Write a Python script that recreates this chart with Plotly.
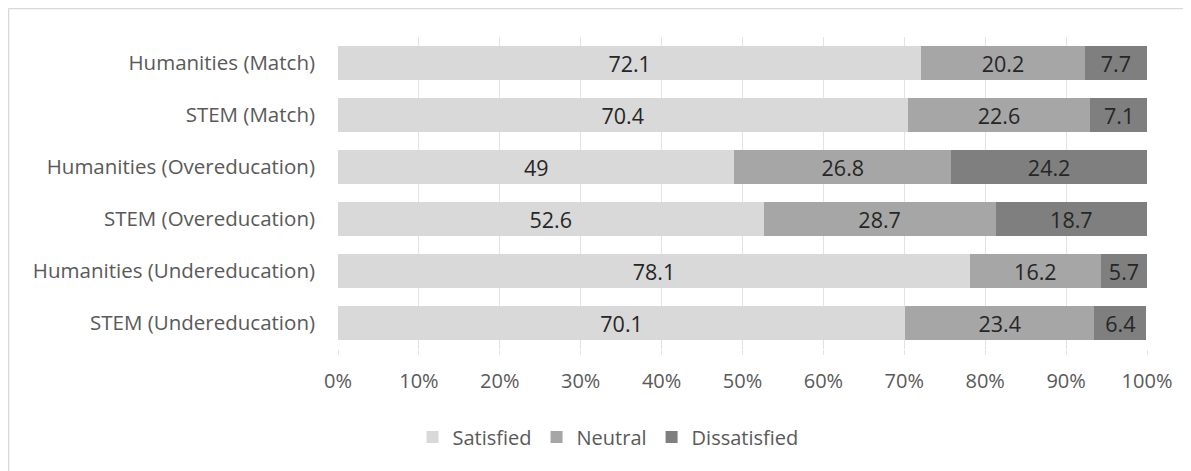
import plotly.graph_objects as go

categories = [
    "Humanities (Match)",
    "STEM (Match)",
    "Humanities (Overeducation)",
    "STEM (Overeducation)",
    "Humanities (Undereducation)",
    "STEM (Undereducation)",
]
satisfied = [72.1, 70.4, 49, 52.6, 78.1, 70.1]
neutral = [20.2, 22.6, 26.8, 28.7, 16.2, 23.4]
dissatisfied = [7.7, 7.1, 24.2, 18.7, 5.7, 6.4]
series_names = ["Satisfied", "Neutral", "Dissatisfied"]
colors = ["#d9d9d9", "#a6a6a6", "#7f7f7f"]
x_ticks = [0, 10, 20, 30, 40, 50, 60, 70, 80, 90, 100]
x_tick_labels = [f"{v}%" for v in x_ticks]

FONT = "Open Sans"
fig = go.Figure()
for name, vals, col in zip(series_names, [satisfied, neutral, dissatisfied], colors):
    fig.add_trace(go.Bar(
        y=categories, x=vals, name=name, orientation="h",
        marker=dict(color=col, line=dict(width=0)),
        text=[f"{v:g}" for v in vals], textposition="inside",
        insidetextanchor="middle", textangle=0,
        textfont=dict(family=FONT, size=21.5, color="#262626"),
        width=0.654,
    ))

W, H = 1191, 471
L, R, T, B = 330, 52, 29, 130
pw, ph = W - L - R, H - T - B
def px(x):
    return (x - L) / pw
def py(y):
    return (H - B - y) / ph

fig.update_layout(
    barmode="stack",
    width=W, height=H,
    margin=dict(l=L, r=R, t=T, b=B),
    paper_bgcolor="white", plot_bgcolor="white",
    font=dict(family=FONT, color="#595959", size=20),
    bargap=0.346,
    uniformtext=dict(minsize=21, mode="show"),
    xaxis=dict(range=[0, 100], tickvals=x_ticks, ticktext=x_tick_labels,
               showgrid=True, gridcolor="#e3e3e3", gridwidth=1, zeroline=False,
               ticks="outside", ticklen=5, tickcolor="#e3e3e3",
               ticklabelstandoff=9, tickfont=dict(size=20, color="#595959"),
               showline=False, fixedrange=True),
    yaxis=dict(autorange="reversed", showgrid=False, ticks="",
               ticklabelstandoff=22, tickfont=dict(size=20.5, color="#595959"),
               showline=False),
    legend=dict(orientation="h", x=px(600), xanchor="center", y=py(429), yanchor="middle",
                font=dict(size=20, color="#595959"), traceorder="normal",
                itemwidth=30),
    showlegend=True,
    shapes=[
        dict(type="line", xref="paper", yref="paper", x0=px(0.5), x1=px(1200), y0=py(0.5), y1=py(0.5),
             line=dict(color="#d9d9d9", width=1.5)),
        dict(type="line", xref="paper", yref="paper", x0=px(0.5), x1=px(0.5), y0=py(0.5), y1=py(480),
             line=dict(color="#d9d9d9", width=1.5)),
    ],
)
fig.write_html("out.html")
